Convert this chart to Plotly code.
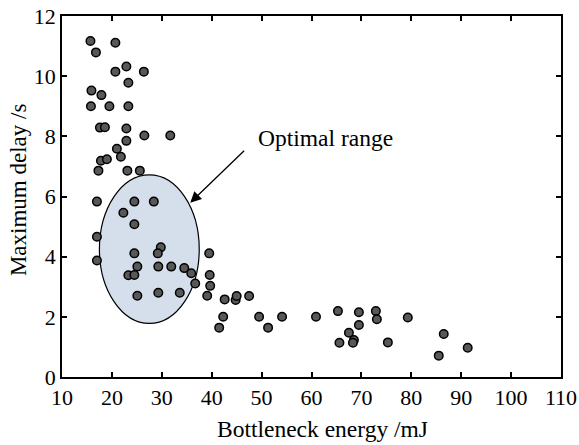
import plotly.graph_objects as go

# Data
energy_mJ = [
    15.7, 20.7, 16.8, 20.7, 22.9, 26.4, 23.3, 15.9, 17.9, 15.8, 19.5, 23.3,
    17.6, 18.6, 22.9, 22.9, 26.5, 31.7, 21.0, 21.8, 17.8, 19.0, 17.3, 23.1, 25.6,
    17.0, 24.5, 28.4, 22.3, 24.5, 17.0, 29.8, 24.5, 29.2, 39.5, 17.0, 25.1,
    29.3, 31.9, 34.5, 35.9, 23.3, 24.5, 39.6, 36.7, 39.7, 25.1, 29.3, 33.6,
    39.1, 42.6, 44.8, 45.0, 47.5, 42.3, 41.5,
    49.5, 51.3, 54.1, 60.9, 65.3, 69.5, 69.5, 67.5, 68.5, 68.3, 65.6, 72.9,
    73.1, 75.3, 79.3, 86.5, 85.5, 91.3,
]
delay_s = [
    11.17, 11.11, 10.79, 10.15, 10.32, 10.15, 9.78, 9.52, 9.37, 9.0, 9.0, 9.0,
    8.29, 8.30, 8.26, 7.85, 8.03, 8.03, 7.59, 7.32, 7.19, 7.24, 6.86, 6.86, 6.86,
    5.83, 5.83, 5.83, 5.46, 5.08, 4.66, 4.31, 4.11, 4.11, 4.11, 3.87, 3.67,
    3.67, 3.67, 3.62, 3.45, 3.38, 3.39, 3.39, 3.11, 3.03, 2.70, 2.80, 2.80,
    2.70, 2.58, 2.56, 2.69, 2.69, 2.0, 1.64,
    2.0, 1.64, 2.0, 2.0, 2.19, 2.15, 1.73, 1.47, 1.23, 1.14, 1.14, 2.19,
    1.92, 1.15, 1.98, 1.43, 0.71, 0.97,
]

# Optimal-range ellipse bounds (data units)
ellipse_x = [17.5, 37.5]
ellipse_y = [1.78, 6.72]

x_ticks = [10, 20, 30, 40, 50, 60, 70, 80, 90, 100, 110]
y_ticks = [0, 2, 4, 6, 8, 10, 12]

FONT = "Times New Roman, Liberation Serif, serif"

fig = go.Figure()
fig.add_trace(go.Scatter(
    x=energy_mJ, y=delay_s, mode="markers",
    marker=dict(size=8.5, color="rgb(88,88,88)",
                line=dict(color="black", width=1.5)),
    showlegend=False, cliponaxis=False,
))

fig.add_shape(type="circle", xref="x", yref="y",
              x0=ellipse_x[0], x1=ellipse_x[1],
              y0=ellipse_y[0], y1=ellipse_y[1],
              fillcolor="rgb(213,223,235)",
              line=dict(color="black", width=1.2), layer="below")

fig.add_annotation(x=35.7, y=5.79, ax=46.8, ay=7.57,
                   xref="x", yref="y", axref="x", ayref="y",
                   text="", showarrow=True, arrowhead=2, arrowsize=1.7,
                   arrowwidth=1.3, arrowcolor="black")
fig.add_annotation(x=62.8, y=7.93, xref="x", yref="y",
                   text="Optimal range", showarrow=False,
                   font=dict(family=FONT, size=23.5, color="black"),
                   xanchor="center", yanchor="middle")

# Axis titles
fig.add_annotation(x=0.523, y=-0.143, xref="paper", yref="paper",
                   text="Bottleneck energy /mJ", showarrow=False,
                   font=dict(family=FONT, size=23.5, color="black"),
                   xanchor="center", yanchor="middle")
fig.add_annotation(x=-0.088, y=0.518, xref="paper", yref="paper",
                   text="Maximum delay /s", showarrow=False, textangle=-90,
                   font=dict(family=FONT, size=23, color="black"),
                   xanchor="center", yanchor="middle")

axis_common = dict(showline=True, linecolor="black", linewidth=1.5,
                   mirror="ticks", ticks="inside", ticklen=5, tickwidth=1.5,
                   tickcolor="black", showgrid=False, zeroline=False,
                   automargin=False,
                   tickfont=dict(family=FONT, size=22, color="black"))

fig.update_xaxes(range=[10, 110], tickvals=x_ticks, **axis_common)
fig.update_yaxes(range=[0, 12], tickvals=y_ticks, **axis_common)

fig.update_layout(width=579, height=445,
                  margin=dict(l=62, r=18, t=16, b=68),
                  plot_bgcolor="white", paper_bgcolor="white")

fig.write_html("out.html", config={"displayModeBar": False},
               post_script="document.body.style.margin='0px';")
